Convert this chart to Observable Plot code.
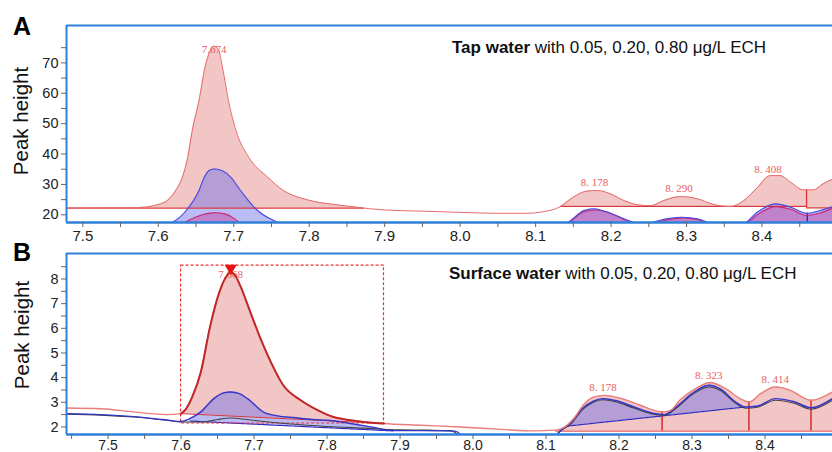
<!DOCTYPE html>
<html><head><meta charset="utf-8">
<script src="https://cdn.jsdelivr.net/npm/d3@7"></script>
<script src="https://cdn.jsdelivr.net/npm/@observablehq/plot@0.6"></script>
<style>
body{margin:0;background:#fff;}
#wrap{position:relative;width:832px;height:452px;overflow:hidden;font-family:"Liberation Sans",Arial,sans-serif;background:#fff;}
.panel{position:absolute;left:0;}
.lab{position:absolute;font-weight:bold;font-size:25px;color:#000;line-height:1;}
.ylab{position:absolute;font-size:20.5px;color:#111;transform:translate(-50%,-50%) rotate(-90deg);white-space:nowrap;line-height:1;}
.ttl{position:absolute;font-size:17px;color:#111;white-space:nowrap;line-height:1;transform:translateY(-50%);}
</style></head>
<body><div id="wrap"></div>
<script>
// ---------- tick values ----------
const xTicks = [7.5, 7.6, 7.7, 7.8, 7.9, 8.0, 8.1, 8.2, 8.3, 8.4];
const xMinorTicks = [7.45, 7.55, 7.65, 7.75, 7.85, 7.95, 8.05, 8.15, 8.25, 8.35, 8.45];
const tapYTicks = [20, 30, 40, 50, 60, 70];
const tapYMinorTicks = [25, 35, 45, 55, 65, 75];
const surfYTicks = [2, 3, 4, 5, 6, 7, 8];
const surfYMinorTicks = [2.5, 3.5, 4.5, 5.5, 6.5, 7.5, 8.5];

// ---------- texts ----------
const panelLetters = ["A", "B"];
const yLabel = "Peak height";
const tapTitle = ["Tap water", " with 0.05, 0.20, 0.80 μg/L ECH"];
const surfTitle = ["Surface water", " with 0.05, 0.20, 0.80 μg/L ECH"];

// ---------- Panel A: tap water, [retention time, peak height] ----------
const tap080 = [[7.478,22.2],[7.52,22.3],[7.56,22.3],[7.585,22.6],[7.60,23.4],[7.612,24.7],[7.623,28],[7.632,32.4],[7.639,38.9],[7.645,47.7],[7.654,57.6],[7.662,68.6],[7.668,73.5],[7.674,75.5],[7.68,74.2],[7.685,68.6],[7.693,57.6],[7.703,47.7],[7.72,38.9],[7.745,32.4],[7.766,28],[7.798,24.9],[7.833,23.4],[7.86,22.6],[7.88,22.0],[7.90,21.6],[7.95,21.2],[8.00,20.8],[8.05,20.5],[8.09,20.5],[8.107,20.9],[8.133,22.7],[8.15,25.8],[8.168,27.8],[8.182,28],[8.199,26.9],[8.217,24.7],[8.235,23.3],[8.252,23.0],[8.27,24.7],[8.292,26],[8.314,25.3],[8.336,23.4],[8.358,22.7],[8.376,24.7],[8.394,29],[8.411,32.9],[8.424,32.9],[8.438,30.7],[8.455,28.2],[8.468,28.2],[8.481,30.2],[8.494,31.8]];
const tap020 = [[7.478,16.5],[7.60,16.5],[7.619,17.6],[7.639,22],[7.654,28],[7.661,32.4],[7.668,34.7],[7.675,35.1],[7.685,34.5],[7.696,32.4],[7.709,28],[7.729,22],[7.753,18.1],[7.775,16.5],[8.12,16.5],[8.14,17.2],[8.164,21.4],[8.177,22],[8.195,20.9],[8.217,18.7],[8.235,17.2],[8.245,16.9],[8.256,17.6],[8.274,18.7],[8.294,19.2],[8.314,18.7],[8.332,17.2],[8.35,16.6],[8.376,17.2],[8.394,20.9],[8.418,23.6],[8.438,22.5],[8.46,20.5],[8.477,21.4],[8.494,22.7]];
const tap005 = [[7.478,16],[7.62,16],[7.636,17.6],[7.65,19.3],[7.665,20.4],[7.675,20.7],[7.688,20.3],[7.70,18.9],[7.707,17.6],[7.725,16],[8.12,16],[8.142,17.2],[8.164,21],[8.18,21.6],[8.197,20.7],[8.217,18.5],[8.235,17.0],[8.25,16.6],[8.26,17.4],[8.277,18.5],[8.295,19.0],[8.314,18.5],[8.33,17.2],[8.35,16.5],[8.378,17.2],[8.396,20.4],[8.418,22.7],[8.438,21.8],[8.46,19.8],[8.477,20.6],[8.494,22.2]];
const tapRedSegments = [{start:7.478,end:7.872,b0:22.2,b1:22.2},{start:8.133,end:8.459,b0:22.8,b1:22.8},{start:8.459,end:8.494,b0:22.3,b1:22.3}];
const tapRedDrops = [8.459];
const tapBlueDrops = [8.46];
const tapPeakTimes = [7.674, 8.178, 8.290, 8.408];
const tapPeakLabels = ["7.674", "8. 178", "8. 290", "8. 408"];

// ---------- Panel B: surface water ----------
const surf080 = [[7.443,2.77],[7.49,2.74],[7.535,2.61],[7.58,2.50],[7.60,2.54],[7.606,2.7],[7.615,3.2],[7.627,4.22],[7.64,6.11],[7.654,7.6],[7.662,8.1],[7.668,8.27],[7.675,8.1],[7.681,7.73],[7.695,6.65],[7.709,5.57],[7.723,4.63],[7.74,3.69],[7.764,3.08],[7.787,2.68],[7.809,2.40],[7.832,2.27],[7.877,2.14],[7.928,2.07],[7.983,2.0],[8.04,1.9],[8.083,1.84],[8.113,1.87],[8.124,1.97],[8.138,2.34],[8.151,2.88],[8.165,3.21],[8.18,3.28],[8.2,3.18],[8.229,2.88],[8.259,2.61],[8.27,2.66],[8.284,3.1],[8.305,3.55],[8.325,3.8],[8.346,3.55],[8.366,3.15],[8.378,3.01],[8.394,3.35],[8.414,3.62],[8.435,3.48],[8.455,3.15],[8.463,3.08],[8.4925,3.42]];
const surf020 = [[7.443,2.54],[7.49,2.50],[7.535,2.42],[7.58,2.28],[7.60,2.22],[7.616,2.4],[7.627,2.61],[7.645,3.15],[7.658,3.38],[7.668,3.42],[7.68,3.35],[7.691,3.15],[7.713,2.6],[7.732,2.45],[7.754,2.38],[7.78,2.3],[7.80,2.27],[7.83,2.15],[7.86,2.0],[7.89,1.85],[7.93,1.85],[7.975,1.83],[7.99,1.6],[8.11,1.6],[8.12,1.85],[8.135,2.2],[8.15,2.75],[8.165,3.05],[8.178,3.15],[8.195,3.07],[8.22,2.82],[8.245,2.57],[8.262,2.5],[8.28,2.85],[8.30,3.35],[8.323,3.69],[8.34,3.52],[8.358,3.05],[8.373,2.81],[8.39,2.85],[8.414,3.15],[8.44,3.02],[8.463,2.78],[8.4925,3.15]];
const surf005 = [[7.443,2.52],[7.49,2.48],[7.535,2.40],[7.58,2.27],[7.60,2.20],[7.63,2.2],[7.65,2.3],[7.668,2.36],[7.69,2.3],[7.72,2.2],[7.75,2.12],[7.80,2.02],[7.85,1.95],[7.90,1.88],[7.94,1.87],[7.97,1.85],[7.985,1.6],[8.11,1.6],[8.12,1.84],[8.135,2.15],[8.15,2.7],[8.165,3.0],[8.178,3.1],[8.195,3.02],[8.22,2.77],[8.245,2.53],[8.262,2.47],[8.28,2.8],[8.30,3.3],[8.323,3.62],[8.34,3.46],[8.358,3.0],[8.373,2.76],[8.39,2.8],[8.414,3.08],[8.44,2.96],[8.463,2.72],[8.4925,3.08]];
const surfRedSegments = [{start:7.6,end:7.878,b0:2.54,b1:2.14},{start:8.113,end:8.4925,b0:1.83,b1:1.83}];
const surfBlueSegments = [{start:7.612,end:7.89,b0:2.24,b1:1.84},{start:8.128,end:8.373,b0:2.03,b1:2.81}];
const surfRedDrops = [8.259, 8.378, 8.463];
const surfWindow = [{x1:7.6, x2:7.878, y1:2.14, y2:8.54}];
const surfPeakTimes = [7.668, 8.178, 8.323, 8.414];
const surfPeakLabels = ["7.668", "8. 178", "8. 323", "8. 414"];

// ---------- styles ----------
const FRAME = "#2f80d8", RED_LINE = "#e46a6a", RED_DARK = "#c0282a", RED_FILL = "#e07070";
const BLUE_LINE = "#4a4ae0", BLUE_FILL = "#6a6ae8", MAG_LINE = "#c8287a", MAG_FILL = "#c83c9c";
const LABEL_RED = "#e86060";

// ---------- helpers ----------
function interp(s, t) {
  if (t <= s[0][0]) return s[0][1];
  for (let i = 1; i < s.length; i++) {
    if (t <= s[i][0]) { const [t0, v0] = s[i-1], [t1, v1] = s[i]; return v0 + (v1 - v0) * (t - t0) / (t1 - t0); }
  }
  return s[s.length-1][1];
}
function segArea(s, seg) {
  const ts = [seg.start, ...s.filter(d => d[0] > seg.start && d[0] < seg.end).map(d => d[0]), seg.end];
  return ts.map(t => { const b = seg.b0 + (seg.b1 - seg.b0) * (t - seg.start) / (seg.end - seg.start); return {t, b, v: Math.max(interp(s, t), b)}; });
}
function segLine(seg) { return [{t: seg.start, b: seg.b0}, {t: seg.end, b: seg.b1}]; }
function sub(s, a, b) {
  const ts = [a, ...s.filter(d => d[0] > a && d[0] < b).map(d => d[0]), b];
  return ts.map(t => ({t, v: interp(s, t)}));
}
const obj = s => s.map(([t, v]) => ({t, v}));
const peaks = (s, times, labels) => times.map((t, i) => ({t, v: interp(s, t), label: labels[i]}));

const baseStyle = {fontFamily: "Liberation Sans, Arial, sans-serif", background: "transparent", overflow: "visible"};
function axes(xd, yTicks, yMinor, pad, fs) {
  return [
    Plot.axisX(xTicks.filter(d => d >= xd[0] && d <= xd[1]), {tickFormat: d3.format(".1f"), tickSize: 5, tickPadding: pad, fontSize: fs, label: null, stroke: "#666", fill: "#222"}),
    Plot.axisX(xMinorTicks.filter(d => d >= xd[0] && d <= xd[1]), {tickFormat: () => "", tickSize: 5, label: null, stroke: "#666"}),
    Plot.axisY(yTicks, {tickSize: 5, tickPadding: 3, fontSize: 14.5, label: null, stroke: "#666", fill: "#222"}),
    Plot.axisY(yMinor, {tickFormat: () => "", tickSize: 5, label: null, stroke: "#666"})
  ];
}

// ---------- Panel A ----------
const tapX = [7.4784, 8.4934], tapY = [17.47, 82.3];
const tapPk = peaks(tap080, tapPeakTimes, tapPeakLabels);
const plotA = Plot.plot({
  width: 832, height: 247, marginLeft: 66, marginRight: 0, marginTop: 25, marginBottom: 25,
  x: {domain: tapX}, y: {domain: tapY}, style: baseStyle,
  marks: [
    ...tapRedSegments.map(seg => Plot.areaY(segArea(tap080, seg), {x: "t", y1: "b", y2: "v", fill: RED_FILL, fillOpacity: 0.4, curve: "monotone-x", clip: true})),
    Plot.areaY(obj(tap020), {x: "t", y1: tapY[0] - 3, y2: "v", fill: BLUE_FILL, fillOpacity: 0.45, curve: "monotone-x", clip: true}),
    Plot.areaY(obj(tap005), {x: "t", y1: tapY[0] - 3, y2: "v", fill: MAG_FILL, fillOpacity: 0.45, curve: "monotone-x", clip: true}),
    ...tapRedSegments.map(seg => Plot.line(segLine(seg), {x: "t", y: "b", stroke: "#d83838", strokeWidth: 1.2, clip: true})),
    Plot.ruleX(tapRedDrops, {x: d => d, y1: tapRedSegments[2].b0, y2: d => interp(tap080, d), stroke: "#d83030", strokeWidth: 1.3}),
    Plot.ruleX(tapBlueDrops, {x: d => d, y1: tapY[0], y2: d => interp(tap020, d), stroke: "#2020d0", strokeWidth: 1.3}),
    Plot.text(tapPk.slice(0, 1), {x: "t", y: "v", text: "label", dy: 3, fill: LABEL_RED, fontSize: 11, fontFamily: "Liberation Serif, serif"}),
    Plot.text(tapPk.slice(1), {x: "t", y: "v", text: "label", dy: -8, fill: LABEL_RED, fontSize: 11, fontFamily: "Liberation Serif, serif"}),
    Plot.line(obj(tap005), {x: "t", y: "v", stroke: MAG_LINE, strokeWidth: 1.1, curve: "monotone-x", clip: true}),
    Plot.line(obj(tap020), {x: "t", y: "v", stroke: BLUE_LINE, strokeWidth: 1.1, curve: "monotone-x", clip: true}),
    Plot.line(obj(tap080), {x: "t", y: "v", stroke: RED_LINE, strokeWidth: 1, curve: "monotone-x", clip: true}),
    Plot.ruleY([tapY[1]], {stroke: FRAME, strokeWidth: 2}),
    Plot.ruleY([tapY[0]], {stroke: FRAME, strokeWidth: 2.5}),
    Plot.ruleX([tapX[0]], {stroke: FRAME, strokeWidth: 2}),
    ...axes(tapX, tapYTicks, tapYMinorTicks, 3, 15)
  ]
});

// ---------- Panel B ----------
const surfX = [7.443, 8.4925], surfY = [1.693, 9.035];
const surfPk = peaks(surf080, surfPeakTimes, surfPeakLabels);
const plotB = Plot.plot({
  width: 832, height: 205, marginLeft: 66, marginRight: 0, marginTop: 6, marginBottom: 18,
  x: {domain: surfX}, y: {domain: surfY}, style: baseStyle,
  marks: [
    ...surfRedSegments.map(seg => Plot.areaY(segArea(surf080, seg), {x: "t", y1: "b", y2: "v", fill: RED_FILL, fillOpacity: 0.4, curve: "monotone-x", clip: true})),
    ...surfBlueSegments.map(seg => Plot.areaY(segArea(surf020, seg), {x: "t", y1: "b", y2: "v", fill: BLUE_FILL, fillOpacity: 0.45, curve: "monotone-x", clip: true})),
    ...surfRedSegments.map(seg => Plot.line(segLine(seg), {x: "t", y: "b", stroke: "#d83838", strokeWidth: 1, clip: true})),
    ...surfBlueSegments.map(seg => Plot.line(segLine(seg), {x: "t", y: "b", stroke: "#2a2ac0", strokeWidth: 1.2, strokeDasharray: "3,1", clip: true})),
    Plot.ruleX(surfRedDrops, {x: d => d, y1: surfRedSegments[1].b0, y2: d => interp(surf080, d), stroke: "#d82828", strokeWidth: 1.5}),
    Plot.rect(surfWindow, {x1: "x1", x2: "x2", y1: "y1", y2: "y2", fill: "none", stroke: "#f03030", strokeWidth: 1.2, strokeDasharray: "3,2"}),
    Plot.text(surfPk.slice(0, 1), {x: "t", y: "v", text: "label", dy: 2, fill: LABEL_RED, fontSize: 11, fontFamily: "Liberation Serif, serif"}),
    Plot.text(surfPk.slice(1), {x: "t", y: "v", text: "label", dy: -8, fill: LABEL_RED, fontSize: 11, fontFamily: "Liberation Serif, serif"}),
    Plot.line(obj(surf005), {x: "t", y: "v", stroke: "#444", strokeWidth: 1.1, curve: "monotone-x", clip: true}),
    Plot.line(obj(surf020), {x: "t", y: "v", stroke: "#3434c8", strokeWidth: 1.4, curve: "monotone-x", clip: true}),
    Plot.line(obj(surf080), {x: "t", y: "v", stroke: "#ea7c7c", strokeWidth: 1.4, curve: "monotone-x", clip: true}),
    Plot.line(sub(surf080, surfWindow[0].x1, surfWindow[0].x2), {x: "t", y: "v", stroke: RED_DARK, strokeWidth: 2, curve: "monotone-x", clip: true}),
    Plot.dot(surfPk.slice(0, 1), {x: "t", y: "v", symbol: "triangle", r: 4.5, rotate: 180, fill: "#ee1111", dy: -4}),
    Plot.ruleY([surfY[1]], {stroke: FRAME, strokeWidth: 2}),
    Plot.ruleY([surfY[0]], {stroke: FRAME, strokeWidth: 2.5}),
    Plot.ruleX([surfX[0]], {stroke: FRAME, strokeWidth: 2}),
    ...axes(surfX, surfYTicks, surfYMinorTicks, 1, 14)
  ]
});

// ---------- assemble ----------
const wrap = document.getElementById("wrap");
function place(node, top) { const d = document.createElement("div"); d.className = "panel"; d.style.top = top + "px"; d.appendChild(node); wrap.appendChild(d); }
place(plotA, 0);
place(plotB, 247);
function addDiv(cls, css, html) { const d = document.createElement("div"); d.className = cls; Object.assign(d.style, css); d.innerHTML = html; wrap.appendChild(d); }
addDiv("lab", {left: "13px", top: "13.5px"}, panelLetters[0]);
addDiv("lab", {left: "13px", top: "240px"}, panelLetters[1]);
addDiv("ylab", {left: "21px", top: "120.5px"}, yLabel);
addDiv("ylab", {left: "21.5px", top: "335px"}, yLabel);
addDiv("ttl", {left: "452px", top: "46.5px"}, "<b>" + tapTitle[0] + "</b>" + tapTitle[1]);
addDiv("ttl", {left: "449px", top: "273px"}, "<b>" + surfTitle[0] + "</b>" + surfTitle[1]);
</script></body></html>
